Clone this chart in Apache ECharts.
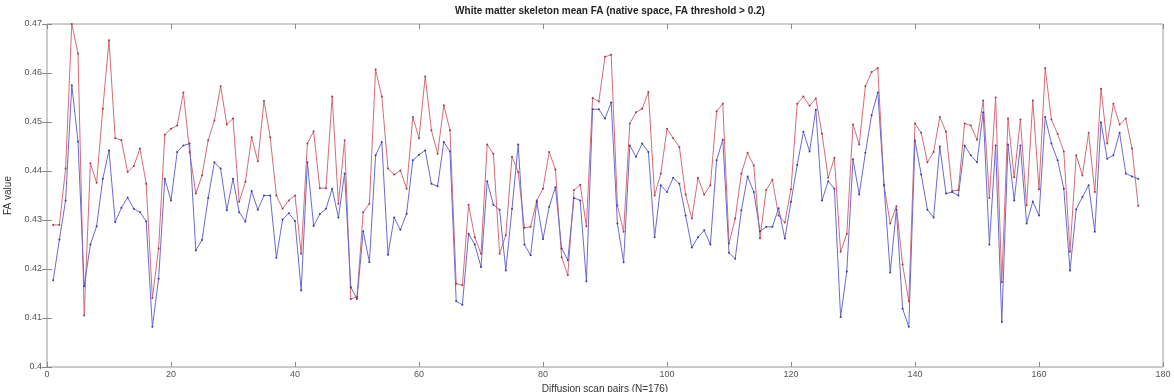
<!DOCTYPE html>
<html><head><meta charset="utf-8">
<script src="https://cdn.jsdelivr.net/npm/echarts@6/dist/echarts.min.js"></script>
<style>html,body{margin:0;padding:0;background:#fff}#c{width:1174px;height:392px}</style>
</head><body><div id="c"></div>
<script>
const titleText = 'White matter skeleton mean FA (native space, FA threshold > 0.2)';
const xName = 'Diffusion scan pairs (N=176)';
const yName = 'FA value';
const xTicks = [0,20,40,60,80,100,120,140,160,180];
const yTicks = [0.4,0.41,0.42,0.43,0.44,0.45,0.46,0.47];

const redFA = [
0.429,0.429,0.4405,0.470,0.464,0.4105,0.4416,0.4376,0.4527,0.4667,
0.4467,0.4463,0.4398,0.4410,0.4446,0.4374,0.4141,0.4242,0.4474,0.4486,
0.4493,0.456,0.4439,0.4354,0.4391,0.4463,0.4503,0.4573,0.4495,0.4507,
0.4337,0.4378,0.4469,0.442,0.4543,0.4469,0.435,0.4323,0.434,0.435,
0.4231,0.4456,0.4481,0.4365,0.4365,0.4552,0.4333,0.4463,0.4139,0.4143,
0.4316,0.4333,0.4607,0.4552,0.4405,0.4393,0.4401,0.4364,0.451,0.4467,
0.4593,0.4483,0.4435,0.4534,0.4483,0.417,0.4167,0.4331,0.4265,0.4231,
0.4454,0.4435,0.4231,0.4269,0.4429,0.4398,0.4284,0.4286,0.434,0.4364,
0.4439,0.4403,0.4224,0.4188,0.4361,0.4372,0.4287,0.4549,0.4542,0.4633,
0.4637,0.433,0.4276,0.4497,0.452,0.4527,0.4561,0.435,0.4395,0.4486,
0.4467,0.4449,0.4352,0.4303,0.4386,0.4352,0.4371,0.4522,0.4537,0.4252,
0.4303,0.4395,0.4437,0.4411,0.4263,0.4361,0.4382,0.4309,0.4295,0.4363,
0.4537,0.4552,0.4533,0.4548,0.4476,0.4386,0.4427,0.4235,0.4272,0.4495,
0.4454,0.4573,0.4602,0.461,0.4371,0.4293,0.4328,0.4209,0.4134,0.4497,
0.4478,0.4418,0.4439,0.451,0.448,0.4359,0.4361,0.4497,0.4493,0.4464,
0.4544,0.4345,0.455,0.4173,0.4507,0.4387,0.4505,0.433,0.4544,0.4363,
0.461,0.4505,0.4476,0.444,0.4235,0.4432,0.4391,0.4478,0.4357,0.4568,
0.4456,0.4537,0.4495,0.4507,0.4446,0.4329];

const blueFA = [
0.4177,0.426,0.434,0.4575,0.446,0.4165,0.425,0.4287,0.4384,0.4442,
0.4296,0.4325,0.4346,0.4323,0.4316,0.4297,0.4082,0.418,0.4384,0.434,
0.4439,0.4452,0.4456,0.4238,0.4259,0.4345,0.4418,0.4405,0.432,0.4384,
0.4316,0.4297,0.4359,0.4321,0.435,0.435,0.4223,0.4301,0.4314,0.4298,
0.4156,0.4418,0.4288,0.4312,0.4323,0.4364,0.4305,0.4395,0.4163,0.4139,
0.4277,0.4214,0.4432,0.4459,0.4229,0.4305,0.428,0.4313,0.4422,0.4433,
0.4442,0.4374,0.4369,0.4459,0.444,0.4134,0.4127,0.4272,0.425,0.4204,
0.4379,0.4331,0.4321,0.4197,0.4323,0.4454,0.425,0.4228,0.4337,0.4261,
0.4327,0.4367,0.4242,0.4218,0.4345,0.434,0.4175,0.4526,0.4526,0.4507,
0.454,0.4293,0.4214,0.4452,0.4429,0.4456,0.4439,0.4265,0.4371,0.4357,
0.4386,0.4374,0.4309,0.4244,0.4265,0.4279,0.425,0.4422,0.4464,0.4233,
0.4221,0.432,0.4389,0.4357,0.4277,0.4286,0.4286,0.4324,0.4262,0.4337,
0.4412,0.448,0.444,0.4525,0.434,0.4379,0.4364,0.4102,0.4195,0.4424,
0.4352,0.4437,0.4514,0.456,0.4371,0.4193,0.4321,0.4119,0.4082,0.4462,
0.4393,0.4321,0.4305,0.445,0.4354,0.4357,0.435,0.4452,0.4432,0.4418,
0.452,0.425,0.4452,0.4092,0.4454,0.434,0.4452,0.4293,0.4338,0.4309,
0.451,0.4456,0.4422,0.4364,0.4197,0.4322,0.4347,0.4371,0.4276,0.4499,
0.4425,0.4432,0.4478,0.4395,0.4389,0.4384];

const font = 'Liberation Sans, Arial, Helvetica, sans-serif';
const pairs = arr => arr.map((v, i) => [i + 1, v]);
const axisCommon = {
  axisLine: {show: false},
  splitLine: {show: false},
  axisTick: {show: true, inside: true, length: 5, lineStyle: {color: '#8a8a8a', width: 1}}
};

const chart = echarts.init(document.getElementById('c'), null, {renderer: 'canvas'});
chart.setOption({
  animation: false,
  backgroundColor: '#ffffff',
  title: {
    text: titleText, left: 605, top: 1, textAlign: 'center',
    textStyle: {fontFamily: font, fontSize: 10, fontWeight: 'bold', color: '#222'}
  },
  grid: {left: 47, right: 11, top: 24, bottom: 25, containLabel: false, outerBoundsMode: 'none',
    show: true, borderColor: '#9a9a9a', borderWidth: 1, backgroundColor: '#fff'},
  xAxis: [
    Object.assign({}, axisCommon, {
      type: 'value', min: xTicks[0], max: xTicks[xTicks.length - 1], interval: 20,
      name: xName, nameLocation: 'middle', nameGap: 15,
      nameTextStyle: {fontFamily: font, fontSize: 10, color: '#333'},
      axisLabel: {fontFamily: font, fontSize: 9, color: '#555', margin: 3}
    }),
    Object.assign({}, axisCommon, {
      type: 'value', position: 'top', min: xTicks[0], max: xTicks[xTicks.length - 1], interval: 20,
      axisLabel: {show: false}
    })
  ],
  yAxis: [
    Object.assign({}, axisCommon, {
      type: 'value', min: yTicks[0], max: yTicks[yTicks.length - 1], interval: 0.01,
      name: yName, nameLocation: 'middle', nameGap: 32, nameRotate: 90,
      nameTextStyle: {fontFamily: font, fontSize: 10, color: '#333'},
      axisLabel: {fontFamily: font, fontSize: 9, color: '#555', margin: 5,
        formatter: v => (Math.round(v * 100) / 100).toString()}
    }),
    Object.assign({}, axisCommon, {
      type: 'value', position: 'right', min: yTicks[0], max: yTicks[yTicks.length - 1], interval: 0.01,
      axisLabel: {show: false}
    })
  ],
  series: [
    {
      type: 'line', data: pairs(redFA), xAxisIndex: 0, yAxisIndex: 0,
      symbol: 'circle', symbolSize: 2, showAllSymbol: true,
      lineStyle: {color: '#d46c78', width: 1},
      itemStyle: {color: '#9c3a48'}
    },
    {
      type: 'line', data: pairs(blueFA), xAxisIndex: 0, yAxisIndex: 0,
      symbol: 'circle', symbolSize: 2, showAllSymbol: true,
      lineStyle: {color: '#6a6ad2', width: 1},
      itemStyle: {color: '#3a3a9c'}
    }
  ]
});
</script></body></html>
